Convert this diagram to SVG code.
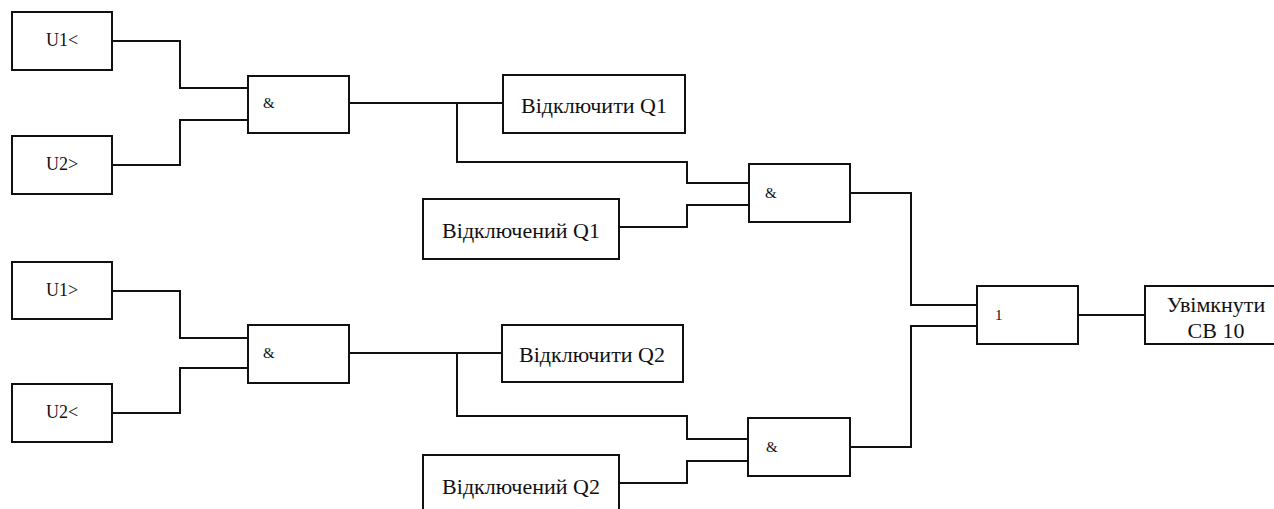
<svg xmlns="http://www.w3.org/2000/svg" width="1274" height="509" viewBox="0 0 1274 509">
<style>
.box{fill:#fff;stroke:#111;stroke-width:2}
.wire{fill:none;stroke:#111;stroke-width:2}
text{font-family:'Liberation Serif','Times New Roman',serif;fill:#111}
.t{text-anchor:middle}
.big{font-size:22px}
.mid{font-size:18px}
.g{font-size:15px}
</style>
<rect width="1274" height="509" fill="#fff"/>
<g id="connectors">
<polyline class="wire" points="112,41 180,41 180,88 248,88"/>
<polyline class="wire" points="112,165 180,165 180,120 248,120"/>
<polyline class="wire" points="349,103 503,103"/>
<polyline class="wire" points="457,103 457,162 687,162 687,183 749,183"/>
<polyline class="wire" points="619,227 687,227 687,205 749,205"/>
<polyline class="wire" points="112,291 180,291 180,338 248,338"/>
<polyline class="wire" points="112,413 180,413 180,368 248,368"/>
<polyline class="wire" points="349,353 502,353"/>
<polyline class="wire" points="457,353 457,416 687,416 687,439 748,439"/>
<polyline class="wire" points="619,483 687,483 687,461 748,461"/>
<polyline class="wire" points="850,193 911,193 911,305 977,305"/>
<polyline class="wire" points="850,447 911,447 911,326 977,326"/>
<polyline class="wire" points="1078,315 1145,315"/>
</g>
<g id="u1lt"><rect class="box" x="12" y="12" width="100" height="58"/><text class="t mid" x="62" y="46" font-family="Liberation Serif, serif">U1&lt;</text></g>
<g id="u2gt"><rect class="box" x="12" y="136" width="100" height="58"/><text class="t mid" x="62" y="170">U2&gt;</text></g>
<g id="and1"><rect class="box" x="248" y="76" width="101" height="57"/><text class="g" x="263" y="108">&amp;</text></g>
<g id="off-q1"><rect class="box" x="503" y="75" width="182" height="58"/><text class="t big" x="594" y="113">Відключити Q1</text></g>
<g id="and3"><rect class="box" x="749" y="164" width="101" height="58"/><text class="g" x="765" y="198">&amp;</text></g>
<g id="offed-q1"><rect class="box" x="423" y="199" width="196" height="60"/><text class="t big" x="521" y="238">Відключений Q1</text></g>
<g id="u1gt"><rect class="box" x="12" y="262" width="100" height="57"/><text class="t mid" x="62" y="296">U1&gt;</text></g>
<g id="u2lt"><rect class="box" x="12" y="384" width="100" height="58"/><text class="t mid" x="62" y="418">U2&lt;</text></g>
<g id="and2"><rect class="box" x="248" y="325" width="101" height="58"/><text class="g" x="263" y="358">&amp;</text></g>
<g id="off-q2"><rect class="box" x="502" y="325" width="181" height="57"/><text class="t big" x="592" y="362">Відключити Q2</text></g>
<g id="and4"><rect class="box" x="748" y="418" width="102" height="58"/><text class="g" x="766" y="452">&amp;</text></g>
<g id="offed-q2"><rect class="box" x="423" y="455" width="196" height="60"/><text class="t big" x="521" y="494">Відключений Q2</text></g>
<g id="or"><rect class="box" x="977" y="286" width="101" height="58"/><text class="g" x="995" y="320">1</text></g>
<g id="on-cb10"><rect class="box" x="1145" y="286" width="140" height="58"/><text class="t big" x="1216" y="312">Увімкнути</text><text class="t big" x="1216" y="338">СВ 10</text></g>
</svg>
